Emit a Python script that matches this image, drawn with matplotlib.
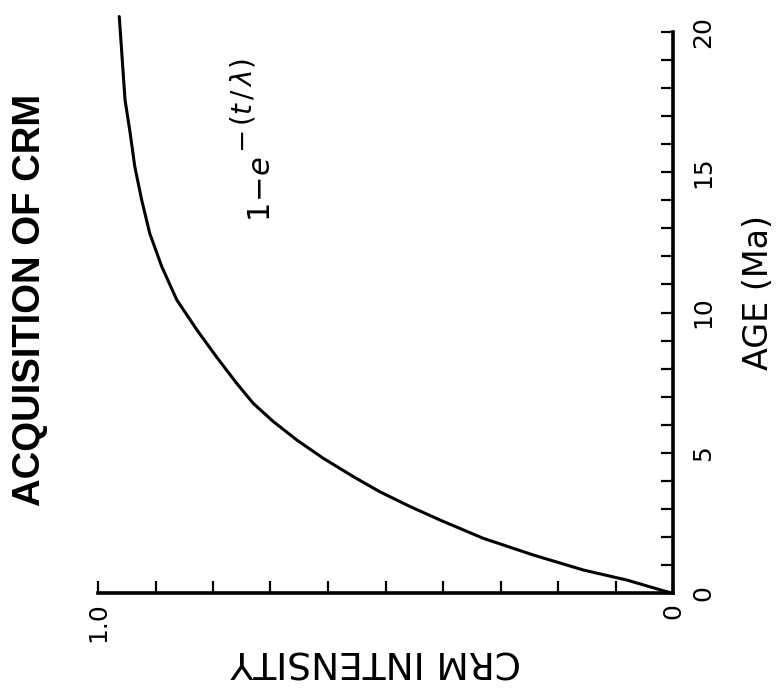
import numpy as np
import matplotlib
matplotlib.use("Agg")
import matplotlib.pyplot as plt

# curve: age (Ma) vs CRM intensity (fraction of 1.0)
age = [0.0, 0.046, 0.463, 0.82, 1.355, 1.95, 2.60, 3.08, 3.61, 4.15,
       4.80, 5.45, 6.11, 6.76, 7.48, 8.42, 9.38, 10.45, 11.63, 12.82,
       14.01, 15.20, 16.39, 17.58, 19.36, 20.55]
intensity = [0.0, 0.011, 0.0805, 0.156, 0.243, 0.330, 0.405, 0.457, 0.510, 0.556,
             0.608, 0.654, 0.695, 0.730, 0.759, 0.794, 0.828, 0.863, 0.889, 0.910,
             0.924, 0.936, 0.944, 0.953, 0.959, 0.963]

age_ticks = np.arange(0, 21, 1)
int_ticks = np.arange(0, 1.01, 0.1)

plt.rcParams["font.family"] = ["DejaVu Sans"]
plt.rcParams["mathtext.fontset"] = "dejavusans"

fig = plt.figure(figsize=(7.78, 6.89), dpi=100)
ax = fig.add_axes([98 / 778, 1 - 593 / 689, 575 / 778, 561 / 689])

ax.plot(intensity, age, color="black", lw=2.2, clip_on=False,
        solid_capstyle="round", solid_joinstyle="round")

ax.set_xlim(1.0, 0.0)
ax.set_ylim(0, 20)
for s in ("top", "left"):
    ax.spines[s].set_visible(False)
for s in ("bottom", "right"):
    ax.spines[s].set_linewidth(2.6)

ax.yaxis.tick_right()
ax.set_yticks(age_ticks)
ax.set_yticklabels([str(int(a)) if a % 5 == 0 else "" for a in age_ticks],
                   rotation=90, va="center", fontsize=18)
ax.set_xticks(int_ticks)
ax.set_xticklabels(["1.0" if abs(v - 1) < 1e-9 else ("0" if v == 0 else "")
                    for v in int_ticks], rotation=90, ha="center", fontsize=18)
ax.tick_params(direction="in", length=9, width=1.6)
ax.tick_params(axis="y", pad=13)
ax.tick_params(axis="x", pad=7)

fig.text(758 / 778, 1 - 293 / 689, "AGE (Ma)", rotation=90, fontsize=24,
         ha="center", va="center")
fig.text(376 / 778, 1 - 660 / 689, "CRM INTENSITY", rotation=180, fontsize=27,
         ha="center", va="center")
fig.text(30 / 778, 1 - 300 / 689, "ACQUISITION OF CRM", rotation=90, fontsize=27.5,
         fontweight="bold", family="Liberation Sans", ha="center", va="center")
fig.text(261 / 778, 1 - 222 / 689, r"$1\!-\!e$", rotation=90,
         fontsize=22, ha="center", va="bottom")
fig.text(243 / 778, 1 - 153 / 689, r"$-\,(t\,/\,\lambda)$", rotation=90,
         fontsize=20, ha="center", va="bottom")

fig.savefig("out.png", dpi=100)
